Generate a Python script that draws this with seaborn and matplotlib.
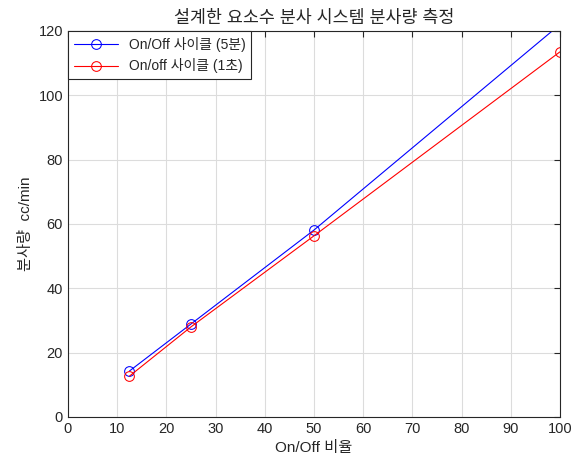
import matplotlib
matplotlib.use("Agg")
import matplotlib.pyplot as plt
import seaborn as sns

# On/Off ratio (%) and measured injection amount (cc/min)
ratio = [12.5, 25, 50, 100]
cycle_5min = [14.3, 28.9, 58.1, 122.0]
cycle_1sec = [12.7, 28.0, 56.3, 113.5]
x_ticks = list(range(0, 101, 10))
y_ticks = list(range(0, 121, 20))

sns.set_style("white")
plt.rcParams['font.family'] = ['Liberation Sans', 'Noto Sans CJK KR', 'DejaVu Sans']
plt.rcParams['font.size'] = 10.5

fig = plt.figure(figsize=(5.79, 4.63), dpi=100)
ax = fig.add_axes([0.1174, 0.0994, 0.8496, 0.8337])

sns.lineplot(x=ratio, y=cycle_5min, ax=ax, color='blue', marker='o', markersize=7,
             markerfacecolor='none', markeredgecolor='blue', linewidth=0.8,
             label='On/Off 사이클 (5분)')
sns.lineplot(x=ratio, y=cycle_1sec, ax=ax, color='red', marker='o', markersize=7,
             markerfacecolor='none', markeredgecolor='red', linewidth=0.8,
             label='On/off 사이클 (1초)')

ax.set_xlim(0, 100)
ax.set_ylim(0, 120)
ax.set_xticks(x_ticks)
ax.set_yticks(y_ticks)
ax.grid(True, color='#dcdcdc', linewidth=0.8)
ax.tick_params(direction='in', top=True, right=True, length=4, color='#262626',
               labelcolor='#262626', labelsize=10.5)
for s in ax.spines.values():
    s.set_color('#262626')
    s.set_linewidth(0.8)

ax.set_title('설계한 요소수 분사 시스템 분사량 측정', fontsize=12.5, color='#262626')
ax.set_xlabel('On/Off 비율', fontsize=11, color='#262626')
ax.set_ylabel('분사량  cc/min', fontsize=11, color='#262626')

leg = ax.legend(loc='upper left', borderaxespad=0, fancybox=False, edgecolor='#262626',
                handlelength=3.2, fontsize=10, framealpha=1)
leg.get_frame().set_linewidth(0.8)

fig.savefig('out.png', dpi=100)
